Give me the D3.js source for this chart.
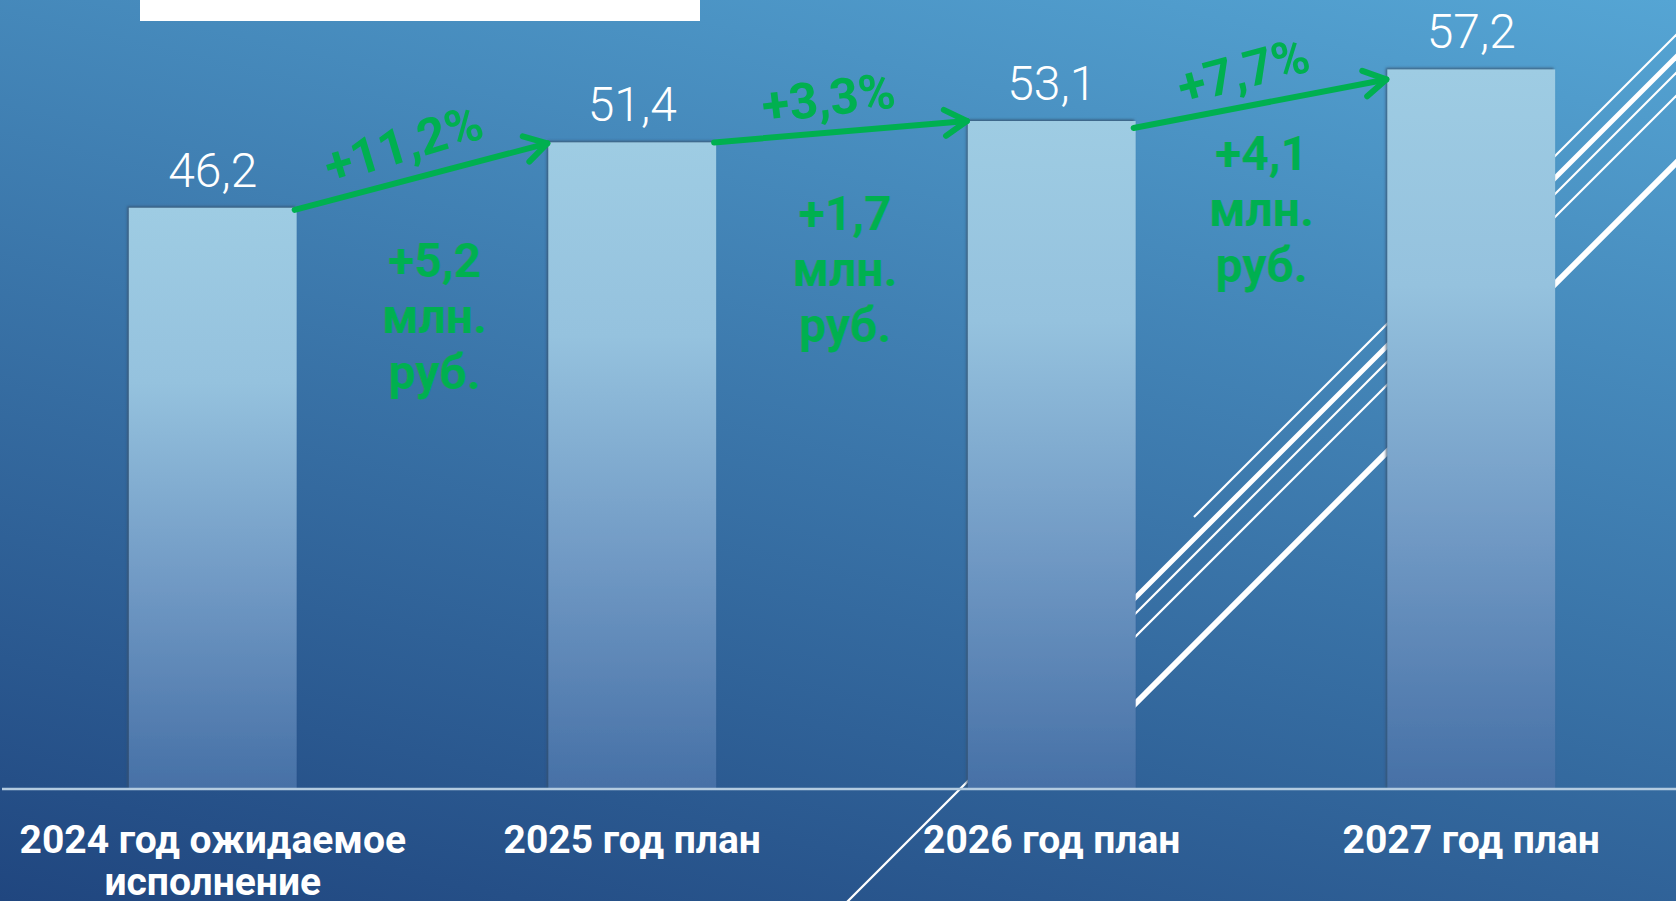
<!DOCTYPE html>
<html>
<head>
<meta charset="utf-8">
<script src="https://cdn.jsdelivr.net/npm/d3@7"></script>
<style>
  html, body { margin: 0; padding: 0; background: #2b5f96; }
  svg { display: block; }
</style>
</head>
<body>
<div id="plotdiv"></div>
<script>
// data
const categories = ["2024", "2025", "2026", "2027"];
const catLines = [["2024 год ожидаемое", "исполнение"], ["2025 год план"], ["2026 год план"], ["2027 год план"]];
const values = [46.2, 51.4, 53.1, 57.2];
const valueLabels = ["46,2", "51,4", "53,1", "57,2"];
const growthPct = ["+11,2%", "+3,3%", "+7,7%"];
const growthAbs = ["+5,2", "+1,7", "+4,1"];
const unitLines = ["млн.", "руб."];

const width = 1676, height = 901;
const baseY = 789;

svg = d3.select("#plotdiv")
  .append("svg")
  .attr("width", width)
  .attr("height", height);

const defs = svg.append("defs");

// background gradient
const bg = defs.append("linearGradient")
  .attr("id", "bg")
  .attr("gradientUnits", "userSpaceOnUse")
  .attr("x1", 0).attr("y1", 901).attr("x2", 281).attr("y2", -321);
bg.append("stop").attr("offset", 0).attr("stop-color", "#20467f");
bg.append("stop").attr("offset", 1).attr("stop-color", "#55a5d4");

// bar gradient
const bg2 = defs.append("linearGradient")
  .attr("id", "bar")
  .attr("x1", 0).attr("y1", 0).attr("x2", 0).attr("y2", 1);
[[0, "#9ecce3"], [0.3, "#95c2de"], [0.65, "#7099c4"], [1, "#4670a6"]].forEach(s => {
  bg2.append("stop").attr("offset", s[0]).attr("stop-color", s[1]);
});

// soft edge on left/top of bars
defs.append("filter")
  .attr("id", "edge")
  .attr("x", -0.1).attr("y", -0.1).attr("width", 1.2).attr("height", 1.2)
  .append("feDropShadow")
  .attr("dx", -1.5).attr("dy", -1.5)
  .attr("stdDeviation", 0.8)
  .attr("flood-color", "#34506c")
  .attr("flood-opacity", 0.8);

// arrow head
defs.append("marker")
  .attr("id", "head")
  .attr("viewBox", "-30 -20 40 40")
  .attr("refX", 0).attr("refY", 0)
  .attr("markerWidth", 40).attr("markerHeight", 40)
  .attr("markerUnits", "userSpaceOnUse")
  .attr("orient", "auto")
  .append("path")
  .attr("d", "M-22,-13 L0,0 L-22,13")
  .attr("fill", "none")
  .attr("stroke", "#00b050")
  .attr("stroke-width", 6)
  .attr("stroke-linecap", "round")
  .attr("stroke-linejoin", "round");

svg.append("rect")
  .attr("width", width).attr("height", height)
  .attr("fill", "url(#bg)");

// theme decoration lines (behind bars)
const deco = [
  [1194, 517, 1720, -9, 2.2],
  [1080, 653, 1740, -7, 5],
  [847, 902, 1760, -11, 2.2],
  [1090, 682, 1780, -8, 2.2],
  [1100, 739, 1850, -11, 6]
];
svg.selectAll(".deco")
  .data(deco)
  .enter()
  .append("line")
  .attr("x1", d => d[0]).attr("y1", d => d[1])
  .attr("x2", d => d[2]).attr("y2", d => d[3])
  .attr("stroke", "#fff")
  .attr("stroke-width", d => d[4]);

// title box remnant
svg.append("rect")
  .attr("x", 140).attr("y", 0).attr("width", 560).attr("height", 21)
  .attr("fill", "#fff");

// scales
const x = d3.scaleBand()
  .domain(categories)
  .range([3, 1681])
  .paddingInner(0.6)
  .paddingOuter(0.3);

const y = d3.scaleLinear()
  .domain([0, 62.72])
  .range([baseY, 0]);

// bars
svg.selectAll(".bar")
  .data(values)
  .enter()
  .append("rect")
  .attr("x", (v, i) => x(categories[i]))
  .attr("y", v => y(v))
  .attr("width", x.bandwidth())
  .attr("height", v => baseY - y(v))
  .attr("fill", "url(#bar)")
  .attr("filter", "url(#edge)");

// baseline
svg.append("line")
  .attr("x1", 2).attr("x2", width)
  .attr("y1", baseY).attr("y2", baseY)
  .attr("stroke", "#b3cbe0")
  .attr("stroke-width", 2.5);

// value labels
svg.selectAll(".val")
  .data(valueLabels)
  .enter()
  .append("text")
  .attr("x", (t, i) => x(categories[i]) + x.bandwidth() / 2)
  .attr("y", (t, i) => y(values[i]) - 21)
  .attr("text-anchor", "middle")
  .attr("fill", "#fff")
  .style("font-family", "Roboto, 'DejaVu Sans', sans-serif")
  .style("font-weight", 300)
  .style("font-size", "48px")
  .text(t => t);

// category labels
catLines.forEach((lines, i) => {
  const t = svg.append("text")
    .attr("x", x(categories[i]) + x.bandwidth() / 2)
    .attr("y", 853)
    .attr("text-anchor", "middle")
    .attr("fill", "#fff")
    .style("font-family", "Roboto, 'DejaVu Sans', sans-serif")
    .style("font-weight", 700)
    .style("font-size", "39px");
  lines.forEach((l, j) => {
    t.append("tspan")
      .attr("x", x(categories[i]) + x.bandwidth() / 2)
      .attr("dy", j == 0 ? 0 : 42)
      .text(l);
  });
});

// growth arrows
const startDrop = [2, 0, 7];
const endDrop = [1, 0, 10];
const noteY = [277, 230, 170];
const noteShift = [12, 3, 0];
const pctTilt = [-2, -2, -4];

growthPct.forEach((p, i) => {
  const x1 = x(categories[i]) + x.bandwidth() - 2;
  const y1 = y(values[i]) + startDrop[i];
  const x2 = x(categories[i + 1]) - 1;
  const y2 = y(values[i + 1]) + endDrop[i];

  svg.append("line")
    .attr("x1", x1).attr("y1", y1)
    .attr("x2", x2).attr("y2", y2)
    .attr("stroke", "#00b050")
    .attr("stroke-width", 6)
    .attr("stroke-linecap", "round")
    .attr("marker-end", "url(#head)");

  const ang = Math.atan2(y2 - y1, x2 - x1) * 180 / Math.PI + pctTilt[i];
  const mx = (x1 + x2) / 2, my = (y1 + y2) / 2;
  const rad = ang * Math.PI / 180;
  const off = 34;
  const cx = mx + Math.sin(rad) * off - 8;
  const cy = my - Math.cos(rad) * off;

  svg.append("text")
    .attr("transform", "translate(" + cx + "," + cy + ") rotate(" + ang + ")")
    .attr("text-anchor", "middle")
    .attr("dy", "0.35em")
    .attr("fill", "#00b050")
    .style("font-family", "Roboto, 'DejaVu Sans', sans-serif")
    .style("font-weight", 700)
    .style("font-size", "50px")
    .text(p);

  const gx = (x(categories[i]) + x.bandwidth() + x(categories[i + 1])) / 2 + noteShift[i];
  const note = svg.append("text")
    .attr("x", gx)
    .attr("y", noteY[i])
    .attr("text-anchor", "middle")
    .attr("fill", "#00b050")
    .style("font-family", "Roboto, 'DejaVu Sans', sans-serif")
    .style("font-weight", 700)
    .style("font-size", "48px");
  [growthAbs[i]].concat(unitLines).forEach((l, j) => {
    note.append("tspan")
      .attr("x", gx)
      .attr("dy", j == 0 ? 0 : 56)
      .text(l);
  });
});
</script>
</body>
</html>
